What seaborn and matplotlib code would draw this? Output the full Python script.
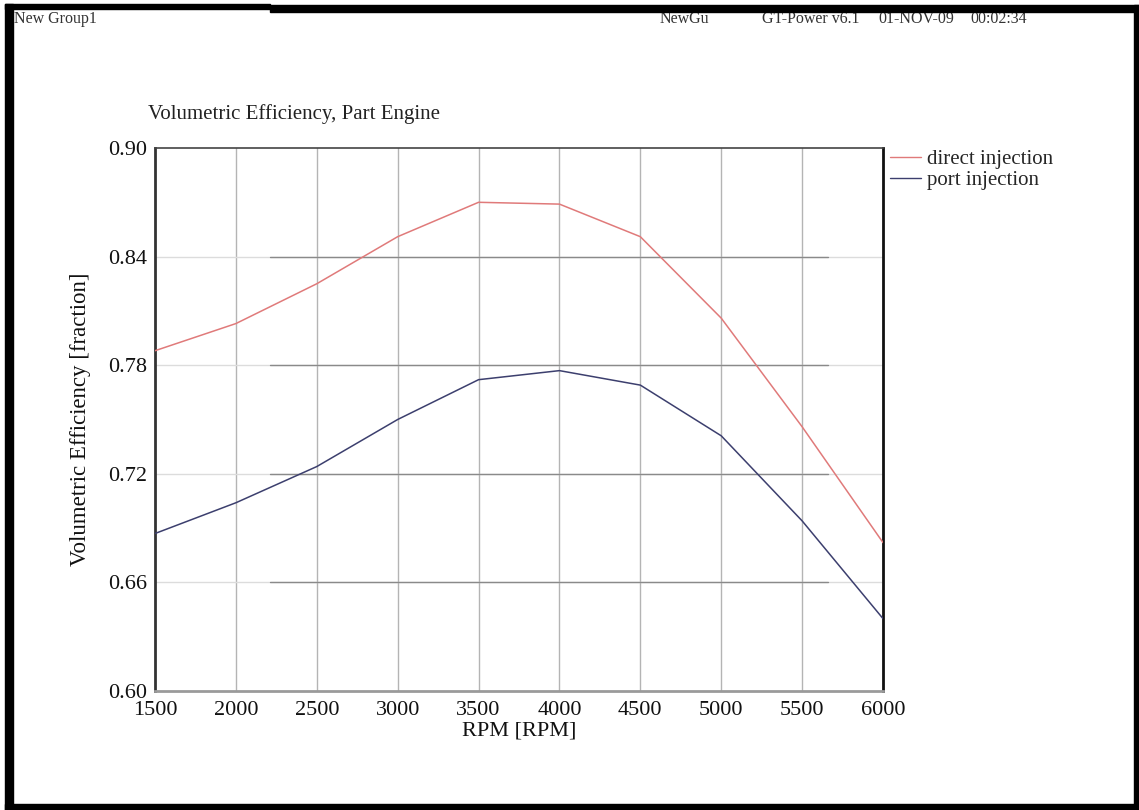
import matplotlib
matplotlib.use("Agg")
import matplotlib.pyplot as plt
from matplotlib.patches import Rectangle
import seaborn as sns
import pandas as pd

# Engine speed sweep and volumetric efficiency for the two fuel systems
rpm = [1500, 2000, 2500, 3000, 3500, 4000, 4500, 5000, 5500, 6000]
direct_injection = [0.788, 0.803, 0.825, 0.851, 0.870, 0.869, 0.851, 0.806, 0.746, 0.682]
port_injection = [0.687, 0.704, 0.724, 0.750, 0.772, 0.777, 0.769, 0.741, 0.694, 0.640]
series_names = ["direct injection", "port injection"]
series_colors = ["#e07a7a", "#3c3f6e"]
x_ticks = [1500, 2000, 2500, 3000, 3500, 4000, 4500, 5000, 5500, 6000]
y_ticks = [0.60, 0.66, 0.72, 0.78, 0.84, 0.90]

df = pd.DataFrame({
    "RPM": rpm * 2,
    "VE": direct_injection + port_injection,
    "case": [series_names[0]] * len(rpm) + [series_names[1]] * len(rpm),
})

sns.set_theme(style="white")
plt.rcParams["font.family"] = ["Liberation Serif", "DejaVu Serif"]

W, H = 1139, 810
fig = plt.figure(figsize=(W / 100, H / 100), dpi=100)
ax = fig.add_axes([155 / W, 1 - 691 / H, (883 - 155) / W, (691 - 148) / H])

# grid: faint full-width rules plus darker centre segments on the y grid
for xv in x_ticks[1:-1]:
    ax.axvline(xv, color="#b4b4b4", lw=1.0, zorder=0)
for yv in y_ticks[1:-1]:
    ax.axhline(yv, color="#dcdcdc", lw=1.0, zorder=0)
    ax.axhline(yv, xmin=0.158, xmax=0.924, color="#8a8a8a", lw=1.0, zorder=0)

sns.lineplot(data=df, x="RPM", y="VE", hue="case", hue_order=series_names,
             palette=series_colors, lw=1.1, ax=ax, legend=True, zorder=3)

ax.set_xlim(1500, 6000)
ax.set_ylim(0.60, 0.90)
ax.set_xticks(x_ticks)
ax.set_yticks(y_ticks)
ax.set_xticklabels([str(v) for v in x_ticks])
ax.set_yticklabels([f"{v:.2f}" for v in y_ticks])
ax.tick_params(axis="both", length=0, labelsize=16, colors="#111111")
ax.tick_params(axis="x", pad=7)
ax.tick_params(axis="y", pad=6)

ax.set_xlabel("RPM [RPM]", fontsize=16, color="#111111", labelpad=1)
ax.set_ylabel("Volumetric Efficiency [fraction]", fontsize=16.5, color="#111111", labelpad=12)

ax.spines["left"].set_color("#333333")
ax.spines["left"].set_linewidth(2.0)
ax.spines["right"].set_color("#111111")
ax.spines["right"].set_linewidth(2.0)
ax.spines["bottom"].set_color("#9a9a9a")
ax.spines["bottom"].set_linewidth(2.0)
ax.spines["top"].set_color("#444444")
ax.spines["top"].set_linewidth(1.2)

leg = ax.legend(loc="upper left", bbox_to_anchor=(0.998, 1.012), frameon=False,
                fontsize=15, handlelength=1.5, handletextpad=0.3,
                labelspacing=0.05, borderaxespad=0.0)
for line in leg.get_lines():
    line.set_linewidth(1.0)

ax.text(-7 / 728, 1.045, "Volumetric Efficiency, Part Engine", transform=ax.transAxes,
        fontsize=15, color="#222222", ha="left", va="bottom")

# page header
hdr = dict(fontsize=11.5, color="#333333", va="center")
fig.text(14 / W, 1 - 19 / H, "New Group1", ha="left", **hdr)
fig.text(660 / W, 1 - 19 / H, "NewGu", ha="left", **hdr)
fig.text(762 / W, 1 - 19 / H, "GT-Power v6.1", ha="left", **hdr)
fig.text(878 / W, 1 - 19 / H, "01-NOV-09", ha="left", **hdr)
fig.text(970 / W, 1 - 19 / H, "00:02:34", ha="left", **hdr)

# page frame
def bar(x0, y0, x1, y1):
    fig.patches.append(Rectangle((x0 / W, 1 - y1 / H), (x1 - x0) / W, (y1 - y0) / H,
                                 transform=fig.transFigure, color="black", zorder=10))

bar(5, 4, 270, 9)
bar(270, 5, W, 12)
bar(5, 4, 13, 810)
bar(1134, 5, W, 810)
bar(5, 804, W, 810)

fig.savefig("out.png", dpi=100, facecolor="white")
